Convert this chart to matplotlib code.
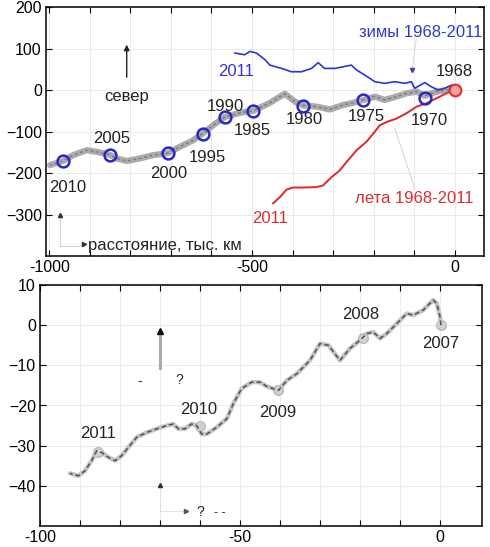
import matplotlib
matplotlib.use("Agg")
import matplotlib.pyplot as plt
import numpy as np

plt.rcParams['font.family'] = ['Liberation Sans', 'DejaVu Sans']

# ---------------- top panel data ----------------
track_x = [0, -4, -20, -45, -74, -94, -119, -144, -173, -197, -226, -255, -275, -308, -341,
           -374, -394, -419, -458, -497, -530, -567, -596, -622, -645, -678, -707, -744, -777,
           -809, -834, -851, -883, -908, -941, -966, -998]
track_y = [0, 0, 0, -4, -14, -4, -8, -16, -24, -16, -24, -32, -36, -47, -40,
           -37, -28, -9, -32, -50, -55, -65, -85, -105, -121, -137, -152, -157, -165,
           -171, -165, -156, -149, -145, -157, -171, -181]

winter_x = [-542, -518, -505, -489, -468, -456, -427, -403, -378, -353, -337, -321, -296,
            -275, -255, -242, -222, -197, -173, -148, -123, -107, -99, -74, -58, -41, -25,
            -8, 4]
winter_y = [89, 85, 93, 89, 73, 60, 52, 44, 44, 52, 66, 52, 52,
            56, 60, 48, 36, 20, 16, 20, 16, 20, 4, 18, 8, 0, 4,
            12, 4]

summer_x = [0, -4, -37, -70, -94, -119, -144, -168, -185, -201, -218, -242, -263, -284,
            -304, -325, -341, -374, -399, -415, -431, -448]
summer_y = [0, 0, -16, -32, -40, -56, -69, -77, -85, -105, -125, -145, -169, -194,
            -210, -230, -234, -235, -235, -240, -258, -273]

year_marks = ['1970', '1975', '1980', '1985', '1990', '1995', '2000', '2005', '2010']
year_x = [-74, -226, -374, -497, -567, -622, -707, -851, -966]
year_y = [-20, -24, -38, -50, -65, -105, -152, -156, -171]
year_label_x = [-62, -219, -372, -500, -565, -611, -705, -846, -954]
year_label_y = [-73, -63, -70, -97, -39, -162, -201, -116, -235]

# ---------------- bottom panel data ----------------
b_x = [0.25, 0, -0.8, -1.7, -4.2, -6.7, -8.3, -10.8, -13.3, -15, -16.7, -18.3, -20, -22.5,
       -25, -27.9, -30, -32.5, -35.8, -38.3, -40.4, -43.3, -45, -47.1, -49.6, -51.7, -53.3,
       -55.8, -58.3, -59.6, -60.8, -62.1, -63.75, -65.4, -66.7, -68.3, -70.8, -73.3, -75.8,
       -77.9, -79.6, -81.25, -82.9, -84.6, -85.8, -87.1, -88.75, -90.4, -92.5]
b_y = [0, 2.1, 5.4, 6.25, 3.75, 2.5, 2.9, 0.4, -2.1, -3.3, -1.7, -2.1, -3.75, -5.8,
       -8.75, -5, -4.6, -8.75, -12.1, -13.75, -16.25, -15.25, -14.2, -14.2, -15.8, -19.6, -23.3,
       -25.4, -27.1, -27.1, -25, -24.6, -25.8, -25.8, -24.6, -25, -25.8, -26.7, -27.9,
       -30.4, -32.5, -33.75, -32.9, -31.7, -31.25, -33.75, -36.25, -37.5, -36.9]
b_years = ['2007', '2008', '2009', '2010', '2011']
b_mark_x = [0.25, -19.2, -40.4, -60, -85.5]
b_mark_y = [0, -3.25, -16.25, -25, -31.5]
b_label_x = [0.25, -19.75, -40.5, -60.25, -85.5]
b_label_y = [-4.5, 2.75, -21.75, -21, -27]

W, H = 490, 547
fig = plt.figure(figsize=(W / 100, H / 100), dpi=100)

def pos(l, t, r, b):
    return [l / W, 1 - b / H, (r - l) / W, (b - t) / H]

def style(ax):
    ax.tick_params(direction='in', top=True, right=True, length=4, width=0.8,
                   labelsize=11.5, pad=3)
    ax.grid(True, color='#e6e6e6', lw=0.6)
    ax.set_axisbelow(True)
    for s in ax.spines.values():
        s.set_linewidth(1.1)

FS = 12

# ---------- top ----------
ax1 = fig.add_axes(pos(46, 7, 484, 256))
style(ax1)
ax1.set_xlim(-1008, 72)
ax1.set_ylim(-400, 200)
ax1.set_xticks(np.arange(-1000, 1, 100))
ax1.set_xticklabels(['-1000' if v == -1000 else '-500' if v == -500 else '0' if v == 0 else ''
                     for v in np.arange(-1000, 1, 100)])
ax1.set_yticks(np.arange(-300, 201, 100))

ax1.plot(track_x, track_y, color='#ababab', lw=4.5, solid_capstyle='round', zorder=2)
ax1.plot(track_x, track_y, color='#7a7a7a', lw=1.0, dashes=(2, 2), zorder=2)
ax1.plot(winter_x, winter_y, color='#2b35d6', lw=1.2, zorder=3)
ax1.plot(summer_x, summer_y, color='#e3262b', lw=1.4, zorder=3)
ax1.plot(year_x, year_y, 'o', ms=8.5, mfc='none', mec='#2828c8', mew=1.8, zorder=4)
ax1.plot([0], [0], 'o', ms=8.5, mfc='#f3a0a0', mec='#e03030', mew=1.5, zorder=5)

for t, x, y in zip(year_marks, year_label_x, year_label_y):
    ax1.text(x, y, t, ha='center', va='center', fontsize=FS, color='#222222')
ax1.text(0, 44, '1968', ha='center', va='center', fontsize=FS, color='#222222')
ax1.text(-84, 138, 'зимы 1968-2011', ha='center', va='center', fontsize=FS, color='#3535d0')
ax1.text(-540, 44, '2011', ha='center', va='center', fontsize=FS, color='#3535d0')
ax1.text(-101, -261, 'лета 1968-2011', ha='center', va='center', fontsize=FS, color='#d83030')
ax1.text(-456, -310, '2011', ha='center', va='center', fontsize=FS, color='#d83030')
# pointers
ax1.plot([-148, -99], [-92, -237], color='#cccccc', lw=0.6, zorder=1)
ax1.plot([-106, -95], [44, 122], color='#d8d8d8', lw=0.6, zorder=1)
ax1.plot([-106], [48], marker='v', ms=3, color='#4444aa', zorder=3)
# north arrow
ax1.annotate('', xy=(-809, 116), xytext=(-809, 24),
             arrowprops=dict(arrowstyle='-|>', color='#222222', lw=1.0, mutation_scale=8))
ax1.text(-809, -15, 'север', ha='center', va='center', fontsize=FS, color='#222222')
ax1.plot([-974, -974], [-375, -305], color='#d0d0d0', lw=0.7)
ax1.plot([-974], [-302], marker='^', ms=3, color='#333333')
ax1.plot([-974, -915], [-375, -375], color='#d0d0d0', lw=0.7)
ax1.plot([-915], [-372], marker='>', ms=3, color='#333333')
ax1.text(-905, -375, 'расстояние, тыс. км', ha='left', va='center', fontsize=FS,
         color='#222222')

# ---------- bottom ----------
ax2 = fig.add_axes(pos(40, 285, 482, 526))
style(ax2)
ax2.set_xlim(-100, 10.5)
ax2.set_ylim(-50, 10)
ax2.set_xticks(np.arange(-100, 1, 10))
ax2.set_xticklabels(['-100' if v == -100 else '-50' if v == -50 else '0' if v == 0 else ''
                     for v in np.arange(-100, 1, 10)])
ax2.set_yticks(np.arange(-40, 11, 10))

ax2.plot(b_x, b_y, color='#c4c4c4', lw=3.2, solid_capstyle='round', zorder=2)
ax2.plot(b_x, b_y, color='#505050', lw=1.1, dashes=(3, 2), zorder=3)
ax2.plot(b_mark_x, b_mark_y, 'o', ms=7, mfc='#d0d0d0', mec='#bbbbbb', mew=1.0, zorder=2)
for t, x, y in zip(b_years, b_label_x, b_label_y):
    ax2.text(x, y, t, ha='center', va='center', fontsize=FS, color='#222222')

ax2.plot([-70, -70], [-10.75, -2.5], color='#aaaaaa', lw=2.2, zorder=2)
ax2.plot([-70], [-1.5], marker='^', ms=4.5, color='#111111', zorder=3)
ax2.text(-75, -14, '-', ha='center', va='center', fontsize=10, color='#222222')
ax2.text(-65.25, -13.75, '?', ha='center', va='center', fontsize=10, color='#222222')
ax2.plot([-70, -70], [-46.25, -41], color='#dddddd', lw=0.6)
ax2.plot([-70], [-39.75], marker='^', ms=3, color='#333333')
ax2.plot([-70, -64], [-46.25, -46.25], color='#dddddd', lw=0.6)
ax2.plot([-63.5], [-46.25], marker='>', ms=3, color='#555555')
ax2.text(-60, -46.6, '?', ha='center', va='center', fontsize=10, color='#222222')
ax2.text(-55, -46.8, '- -', ha='center', va='center', fontsize=9, color='#222222')

fig.savefig('out.png', dpi=100)
